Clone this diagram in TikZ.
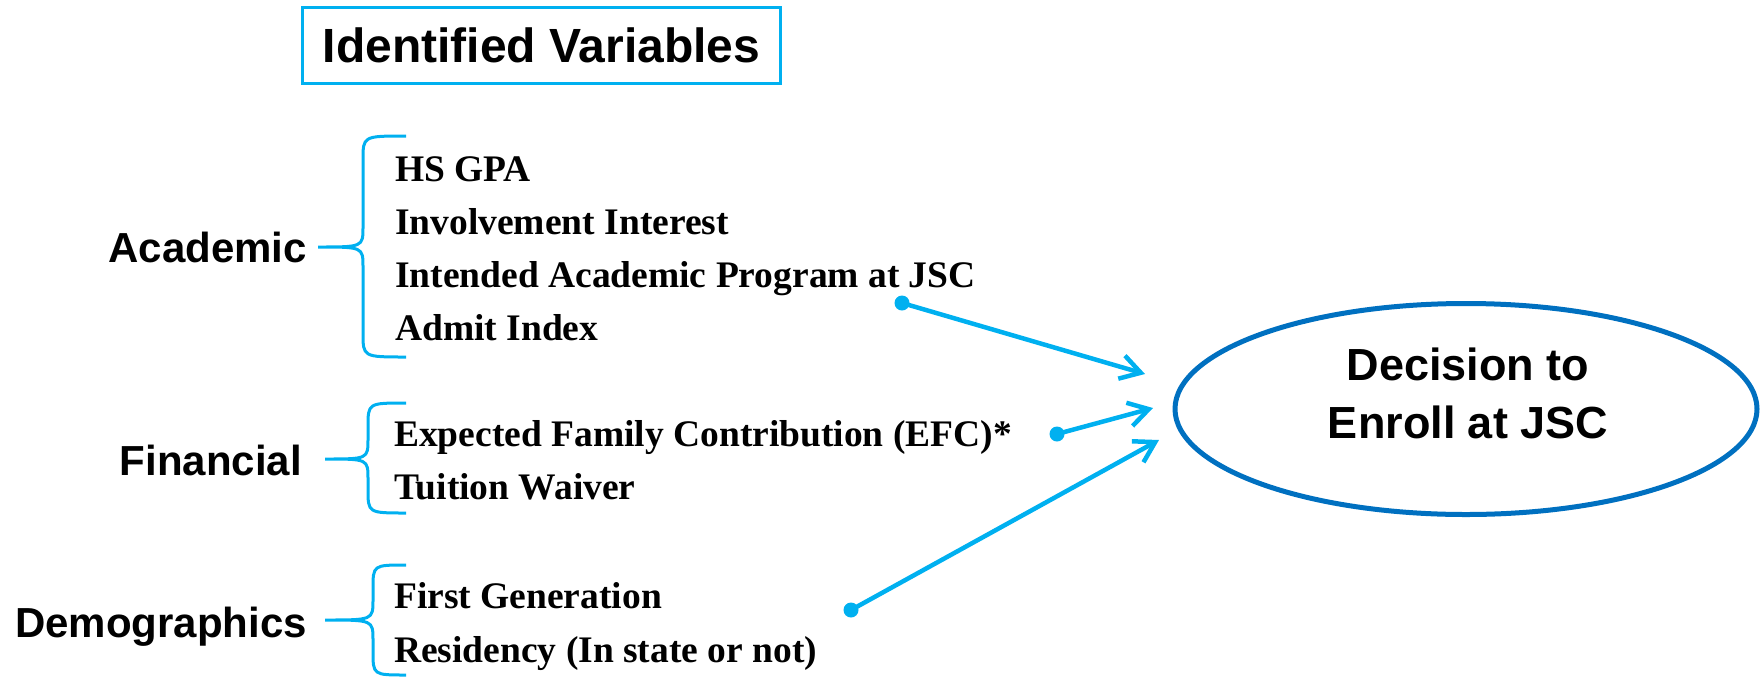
\documentclass[tikz,border=0pt]{standalone}
\usepackage{fontspec}
\setmainfont{Liberation Serif}
\setsansfont{Liberation Sans}
\usetikzlibrary{arrows.meta, positioning, shapes.geometric, calc}
\definecolor{lightblue}{HTML}{00B0F0}
\definecolor{ringblue}{HTML}{0070C0}

\tikzset{
  titlebox/.style={draw=lightblue, line width=3pt, minimum width=478pt, minimum height=76pt,
    font=\sffamily\bfseries\fontsize{48}{56}\selectfont},
  category/.style={anchor=base east, inner sep=0pt, font=\sffamily\bfseries\fontsize{42}{50}\selectfont},
  item/.style={anchor=base west, inner sep=0pt, font=\rmfamily\bfseries\fontsize{37.5}{46}\selectfont},
  brace/.style={draw=lightblue, line width=3pt},
  dot/.style={circle, fill=lightblue, inner sep=0pt, minimum size=15pt},
  link/.style={draw=lightblue, line width=4.5pt, -{Straight Barb[length=20pt,width=24pt]}},
  decision/.style={ellipse, draw=ringblue, line width=5pt, minimum width=582pt, minimum height=211pt},
  dectext/.style={align=center, font=\sffamily\bfseries\fontsize{45}{58}\selectfont}
}

% curly brace: tip x, tip y, spine x, top y, bottom y, arm x
\newcommand{\catbrace}[6]{%
  \draw[brace] (#6,#4) .. controls (#3,#4) .. (#3,#4+24) -- (#3,#2-20)
    .. controls (#3,#2) .. (#1,#2) .. controls (#3,#2) .. (#3,#2+20)
    -- (#3,#5-24) .. controls (#3,#5) .. (#6,#5);}

\begin{document}
\begin{tikzpicture}[x=1pt, y=-1pt]
\useasboundingbox (0,0) rectangle (1761,678);

% title
\node[titlebox] (title) at (541.5,45.5) {Identified Variables};

% Academic group
\node[category] (acad) at (307,262) {Academic};
\catbrace{318}{247}{363}{136}{357}{406}
\node[item] (gpa) at (395,181) {HS GPA};
\node[item] (involve) at (395,234) {Involvement Interest};
\node[item] (program) at (395,287) {Intended Academic Program at JSC};
\node[item] (admit) at (395,340) {Admit Index};

% Financial group
\node[category] (fin) at (302,475) {Financial};
\catbrace{325}{459}{368}{403}{513}{406}
\node[item] (efc) at (394,446) {Expected Family Contribution (EFC)*};
\node[item] (waiver) at (394,499) {Tuition Waiver};

% Demographics group
\node[category] (demo) at (307,637) {Demographics};
\catbrace{325}{620}{373}{565}{675}{406}
\node[item] (firstgen) at (394,608) {First Generation};
\node[item] (resid) at (394,662) {Residency (In state or not)};

% outcome
\node[decision] (enroll) at (1466,409) {};
\node[dectext] (enrolltext) at ([shift={(2,-15.5)}]enroll.center) {Decision to\\Enroll at JSC};

% links
\node[dot] (dotacad) at (902,303) {};
\node[dot] (dotfin) at (1057,434) {};
\node[dot] (dotdemo) at (851,610) {};
\coordinate (tipacad) at (1145,374);
\coordinate (tipfin) at (1153,408);
\coordinate (tipdemo) at (1159,440);
\draw[link] (dotacad.center) -- (tipacad);
\draw[link] (dotfin.center) -- (tipfin);
\draw[link] (dotdemo.center) -- (tipdemo);
\end{tikzpicture}
\end{document}
